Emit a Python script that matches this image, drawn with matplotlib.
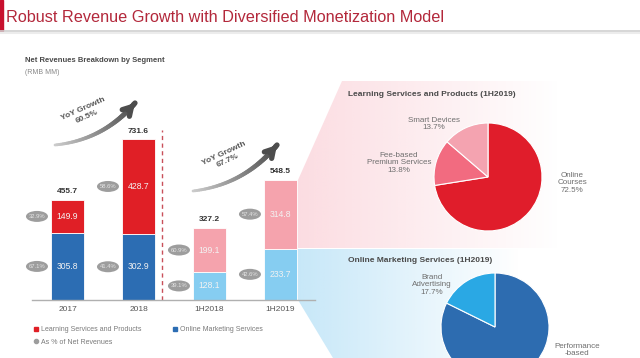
import matplotlib
matplotlib.use('Agg')
import matplotlib.pyplot as plt
import numpy as np
from matplotlib import font_manager
from matplotlib.collections import LineCollection
from matplotlib.colors import to_rgb
from matplotlib.lines import Line2D
from matplotlib.patches import Ellipse, Polygon, Rectangle

plt.rcParams['font.family'] = ['Liberation Sans', 'DejaVu Sans']

W, H = 640, 358

# ---- data ----
categories = ['2017', '2018', '1H2018', '1H2019']
marketing = [305.8, 302.9, 128.1, 233.7]
learning = [149.9, 428.7, 199.1, 314.8]
totals = [455.7, 731.6, 327.2, 548.5]
learning_pct = ['32.9%', '58.6%', '60.9%', '57.4%']
marketing_pct = ['67.1%', '41.4%', '39.1%', '42.6%']
yoy_growth = ['60.5%', '67.7%']

lsp_labels = ['Online\nCourses', 'Fee-based\nPremium Services', 'Smart Devices']
lsp_shares = [72.5, 13.8, 13.7]
oms_labels = ['Performance\n-based', 'Brand\nAdvertising']
oms_shares = [82.3, 17.7]
oms_show_pct = [False, True]   # the big slice's % falls below the slide edge

# ---- colours ----
learning_colors = ['#e01f26', '#e01f26', '#f5a3ad', '#f5a3ad']
marketing_colors = ['#2c6db3', '#2c6db3', '#86cdf1', '#86cdf1']
lsp_colors = ['#e01d2b', '#f26b80', '#f4a3b0']
oms_colors = ['#2d6cb0', '#2aa8e4']
TXT = '#4a4a4a'
GREY = '#6e6e6e'

names = {f.name for f in font_manager.fontManager.ttflist}
title_font = 'Liberation Sans Narrow' if 'Liberation Sans Narrow' in names else 'Liberation Sans'
title_size = 15 if title_font == 'Liberation Sans Narrow' else 11.7

fig = plt.figure(figsize=(6.4, 3.58), dpi=100)

# background layer in pixel coordinates (origin top-left)
bg = fig.add_axes([0, 0, 1, 1])
bg.axis('off')


def gradient_poly(ax, verts, color, x0, x1, alpha0):
    poly = Polygon(verts, closed=True, fc='none', ec='none')
    ax.add_patch(poly)
    img = np.zeros((2, 256, 4))
    img[..., :3] = to_rgb(color)
    img[..., 3] = np.linspace(alpha0, 0, 256)
    im = ax.imshow(img, extent=(x0, x1, H, 0), aspect='auto', interpolation='bilinear')
    im.set_clip_path(poly)


def grad_arrow(ax, p0, p1, rad=0.2):
    # quadratic curve, light grey at the tail, dark at the head
    p0, p1 = np.array(p0, float), np.array(p1, float)
    dx, dy = p1 - p0
    ctrl = (p0 + p1) / 2 + rad * np.array([-dy, dx])
    t = np.linspace(0, 1, 50)[:, None]
    pts = (1 - t) ** 2 * p0 + 2 * (1 - t) * t * ctrl + t ** 2 * p1
    segs = np.stack([pts[:-1], pts[1:]], axis=1)
    shade = np.linspace(0.8, 0.3, len(segs))
    lc = LineCollection(segs, colors=[(s, s, s) for s in shade],
                        linewidths=np.linspace(2.0, 3.8, len(segs)), capstyle='round')
    ax.add_collection(lc)
    ax.annotate('', xy=p1, xytext=pts[-6],
                arrowprops=dict(arrowstyle='->,head_length=0.6,head_width=0.35', lw=3.8,
                                color=(0.3, 0.3, 0.3), shrinkA=0, shrinkB=0))


gradient_poly(bg, [(298, 180), (342, 81), (640, 81), (640, 248), (298, 248)],
              '#f7a9b6', 298, 560, 0.4)
gradient_poly(bg, [(298, 249), (640, 249), (640, 358), (333, 358), (298, 300)],
              '#8fd0f2', 298, 520, 0.5)

# slide title
bg.add_patch(Rectangle((0, 0), 3, 31, color='#c8102e'))
bg.plot([0, W], [31, 31], color='#cfcfcf', lw=1.2)
bg.plot([0, W], [32.5, 32.5], color='#ececec', lw=1.5)
bg.text(6, 22, 'Robust Revenue Growth with Diversified Monetization Model',
        fontsize=title_size, color='#b3283b', family=title_font, va='baseline')

bg.text(25, 60, 'Net Revenues Breakdown by Segment', fontsize=5.5,
        fontweight='bold', color=TXT, va='center')
bg.text(25, 72, '(RMB MM)', fontsize=5, color='#888888', va='center')

# YoY growth arrows
grad_arrow(bg, (55, 145), (135, 103))
grad_arrow(bg, (193, 191), (277, 145))
bg.text(85, 113, 'YoY Growth\n' + yoy_growth[0], rotation=24, rotation_mode='anchor',
        ha='center', va='center', fontsize=6, fontweight='bold', color='#555555')
bg.text(226, 157, 'YoY Growth\n' + yoy_growth[1], rotation=25, rotation_mode='anchor',
        ha='center', va='center', fontsize=6, fontweight='bold', color='#555555')

# pie section titles and labels
bg.text(348, 94, 'Learning Services and Products (1H2019)', fontsize=6,
        fontweight='bold', color=TXT, va='center')
bg.text(348, 260, 'Online Marketing Services (1H2019)', fontsize=6,
        fontweight='bold', color=TXT, va='center')

lsp_pos = [(572, 183), (399, 163), (434, 124)]
for lab, share, (px, py) in zip(lsp_labels, lsp_shares, lsp_pos):
    bg.text(px, py, f'{lab}\n{share}%', ha='center', va='center', fontsize=5.8,
            color=GREY, linespacing=1.1)
oms_pos = [(577, 350), (432, 285)]
for lab, share, show, (px, py) in zip(oms_labels, oms_shares, oms_show_pct, oms_pos):
    txt = f'{lab}\n{share}%' if show else lab
    bg.text(px, py, txt, ha='center', va='center', fontsize=5.8,
            color=GREY, linespacing=1.1)

bg.set_xlim(0, W)
bg.set_ylim(H, 0)


def pie_box(cx, cy, r):
    side = 2 * r * 1.05
    return [(cx - side / 2) / W, (H - cy - side / 2) / H, side / W, side / H]


pax1 = fig.add_axes(pie_box(488, 177, 54))
pax1.pie(lsp_shares, colors=lsp_colors, startangle=90, counterclock=False,
         wedgeprops=dict(edgecolor='white', linewidth=0.8))
pax1.set_xlim(-1.05, 1.05)
pax1.set_ylim(-1.05, 1.05)

pax2 = fig.add_axes(pie_box(495, 327, 54))
pax2.pie(oms_shares, colors=oms_colors, startangle=90, counterclock=False,
         wedgeprops=dict(edgecolor='white', linewidth=0.8))
pax2.set_xlim(-1.05, 1.05)
pax2.set_ylim(-1.05, 1.05)

# ---- stacked bars ----
ax = fig.add_axes([32 / W, (H - 300) / H, 283 / W, 219.5 / H])
ax.patch.set_alpha(0)
x = np.arange(len(categories))
ax.bar(x, marketing, width=0.465, color=marketing_colors, edgecolor='white', linewidth=0.6)
ax.bar(x, learning, width=0.465, bottom=marketing, color=learning_colors,
       edgecolor='white', linewidth=0.6)
ax.set_xlim(-0.5, 3.486)
ax.set_ylim(0, 1000)

for s in ['left', 'top', 'right']:
    ax.spines[s].set_visible(False)
ax.spines['bottom'].set_color('#b0b0b0')
ax.spines['bottom'].set_linewidth(1)
ax.set_yticks([])
ax.set_xticks(x, categories)
ax.tick_params(axis='x', length=0, pad=4, labelsize=6, labelcolor='#555555')

for i in range(len(categories)):
    ax.text(i, totals[i] + 38, f'{totals[i]}', ha='center', va='center', fontsize=6,
            fontweight='bold', color='#333333')
    mid_m = marketing[i] / 2
    mid_l = marketing[i] + learning[i] / 2
    ax.text(i, mid_m, f'{marketing[i]}', ha='center', va='center', fontsize=6.2, color='#f2f2f2')
    ax.text(i, mid_l, f'{learning[i]}', ha='center', va='center', fontsize=6.2, color='#f2f2f2')
    for mid, pct in [(mid_m, marketing_pct[i]), (mid_l, learning_pct[i])]:
        # grey pill: 22 x 11 px on this axes' scale
        ax.add_patch(Ellipse((i - 0.43, mid), 22 / 71, 11 / 0.2195, fc='#9d9d9d', ec='none',
                             clip_on=False))
        ax.text(i - 0.43, mid, pct, ha='center', va='center', fontsize=4.2, color='#e4e4e4')

ax.axvline(1.33, ymax=0.7745, color='#c9505a', lw=1, ls=(0, (3, 2.5)))

handles = [
    Line2D([], [], marker='s', ls='none', color='#e01f26', markersize=2.5),
    Line2D([], [], marker='o', ls='none', color='#9d9d9d', markersize=3),
    Line2D([], [], marker='s', ls='none', color='#2c6db3', markersize=2.5),
]
fig.legend(handles, ['Learning Services and Products', 'As % of Net Revenues',
                     'Online Marketing Services'],
           loc='upper left', bbox_to_anchor=(30 / W, (H - 323) / H), ncol=2,
           frameon=False, fontsize=5, labelcolor='#7a7a7a', borderpad=0,
           handlelength=0.6, handletextpad=0.5, columnspacing=4.5, labelspacing=0.75)

fig.savefig('out.png', dpi=100)
